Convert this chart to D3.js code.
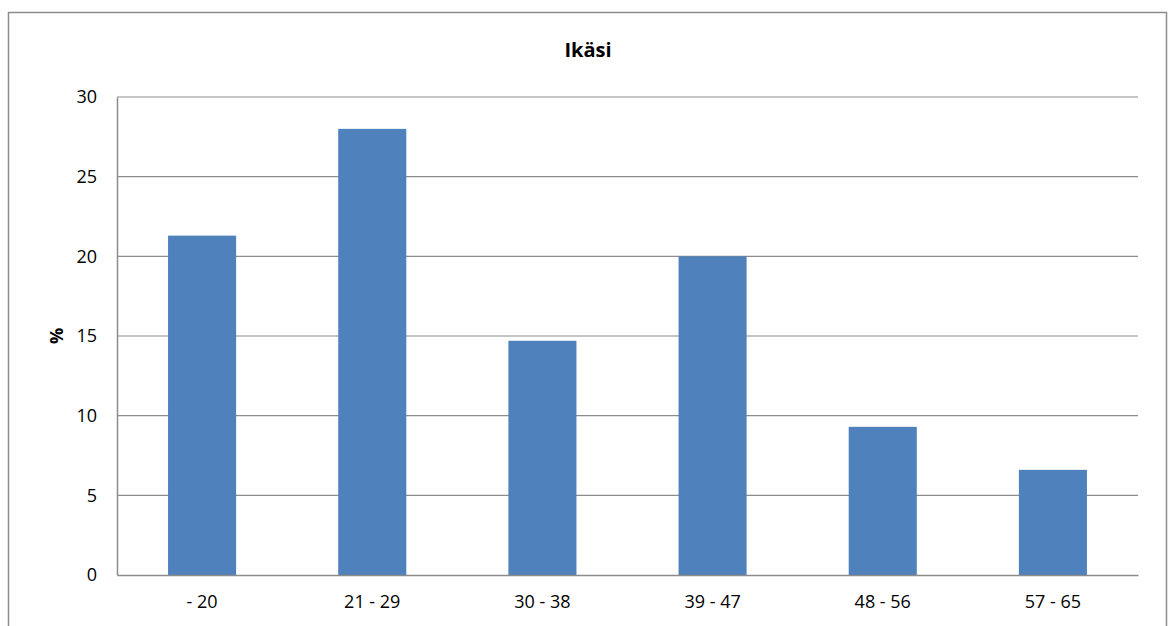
<!DOCTYPE html>
<html>
<head>
<meta charset="utf-8">
<script src="https://cdn.jsdelivr.net/npm/d3@7"></script>
<style>
  body { margin: 0; background: #fff; }
  text { font-family: "Open Sans", "Liberation Sans", sans-serif; }
</style>
</head>
<body>
<div class="canvas"></div>
<script>
// data
const categories = ['- 20', '21 - 29', '30 - 38', '39 - 47', '48 - 56', '57 - 65']
const values = [21.3, 28.0, 14.7, 20.0, 9.3, 6.6]
const yTicks = [0, 5, 10, 15, 20, 25, 30]

const width = 1170
const height = 626

const svg = d3.select('.canvas')
    .append('svg')
    .attr('width', width)
    .attr('height', height)

// outer frame
svg.append('rect')
    .attr('x', 8.5)
    .attr('y', 12.5)
    .attr('width', 1158)
    .attr('height', 640)
    .attr('fill', 'none')
    .attr('stroke', '#8c8c8c')
    .attr('stroke-width', 1.5)

const margin = { top: 97, right: 32, bottom: 51, left: 117 }
const graphWidth = width - margin.left - margin.right
const graphHeight = height - margin.top - margin.bottom

const graph = svg.append('g')
    .attr('transform', `translate(${margin.left},${margin.top})`)

// scales
const x = d3.scaleBand()
    .domain(categories)
    .range([0, graphWidth])
    .paddingInner(0.6)
    .paddingOuter(0.3)

const y = d3.scaleLinear()
    .domain([0, 30])
    .range([graphHeight, 0])

// gridlines
graph.selectAll('line.grid')
    .data(yTicks.filter(d => d > 0))
    .enter()
    .append('line')
    .attr('class', 'grid')
    .attr('x1', 0)
    .attr('x2', graphWidth)
    .attr('y1', d => y(d))
    .attr('y2', d => y(d))
    .attr('stroke', '#8c8c8c')
    .attr('stroke-width', 1.2)

// bars
graph.selectAll('rect.bar')
    .data(values)
    .enter()
    .append('rect')
    .attr('class', 'bar')
    .attr('x', (d, i) => x(categories[i]))
    .attr('width', x.bandwidth())
    .attr('y', d => y(d))
    .attr('height', d => graphHeight - y(d))
    .attr('fill', '#4f81bd')

// axes
const xAxis = d3.axisBottom(x).tickSize(0).tickPadding(20)
const yAxis = d3.axisLeft(y).tickValues(yTicks).tickSize(0).tickPadding(20)

const xAxisGroup = graph.append('g')
    .attr('transform', `translate(0,${graphHeight})`)
    .call(xAxis)
const yAxisGroup = graph.append('g').call(yAxis)

xAxisGroup.select('.domain').attr('stroke', '#8c8c8c').attr('stroke-width', 1.5)
yAxisGroup.select('.domain').attr('stroke', '#8c8c8c').attr('stroke-width', 1.5)

svg.selectAll('.tick text')
    .style('font-family', '"Open Sans", "Liberation Sans", sans-serif')
    .style('font-size', '18px')
    .attr('fill', '#000')

// title
svg.append('text')
    .attr('x', 588)
    .attr('y', 57)
    .attr('text-anchor', 'middle')
    .style('font-size', '20px')
    .attr('font-weight', 'bold')
    .text('Ikäsi')

// y label
svg.append('text')
    .attr('transform', 'translate(63,336) rotate(-90)')
    .attr('text-anchor', 'middle')
    .style('font-size', '18px')
    .attr('font-weight', 'bold')
    .text('%')
</script>
</body>
</html>
